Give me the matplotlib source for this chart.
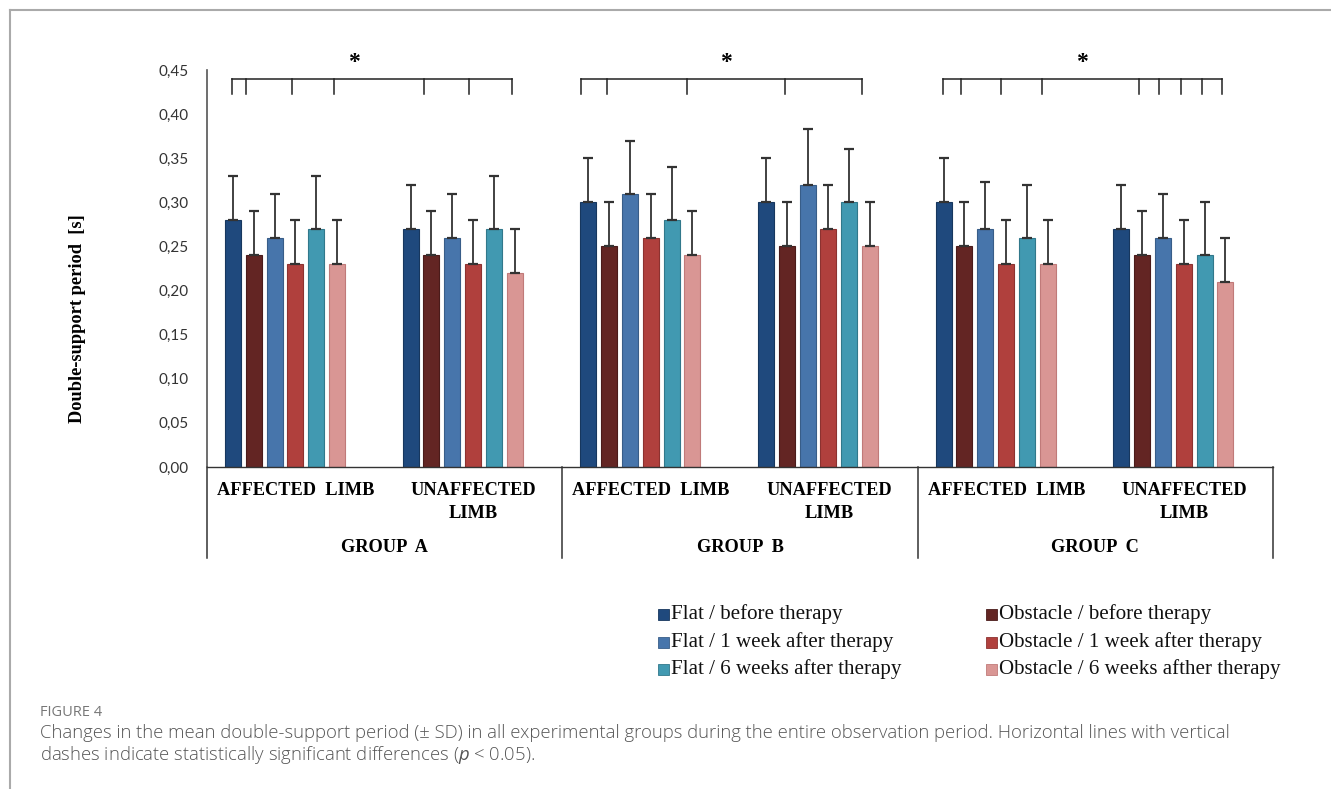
import matplotlib
matplotlib.use('Agg')
import matplotlib.pyplot as plt
from matplotlib.patches import Rectangle
import numpy as np

plt.rcParams['mathtext.fontset'] = 'custom'
plt.rcParams['mathtext.rm'] = 'Open Sans'
plt.rcParams['mathtext.it'] = 'Open Sans:italic'

# data
categories = ['AFFECTED  LIMB', 'UNAFFECTED\nLIMB'] * 3
groups = ['GROUP  A', 'GROUP  B', 'GROUP  C']
series = ['Flat / before therapy', 'Obstacle / before therapy',
          'Flat / 1 week after therapy', 'Obstacle / 1 week after therapy',
          'Flat / 6 weeks after therapy', 'Obstacle / 6 weeks afther therapy']
# rows = series, columns = categories (A aff, A unaff, B aff, B unaff, C aff, C unaff)
means = [[0.28, 0.27, 0.30, 0.30, 0.30, 0.27],
         [0.24, 0.24, 0.25, 0.25, 0.25, 0.24],
         [0.26, 0.26, 0.31, 0.32, 0.27, 0.26],
         [0.23, 0.23, 0.26, 0.27, 0.23, 0.23],
         [0.27, 0.27, 0.28, 0.30, 0.26, 0.24],
         [0.23, 0.22, 0.24, 0.25, 0.23, 0.21]]
sds = [[0.05, 0.05, 0.05, 0.05, 0.05, 0.05],
       [0.05, 0.05, 0.05, 0.05, 0.05, 0.05],
       [0.05, 0.05, 0.06, 0.063, 0.053, 0.05],
       [0.05, 0.05, 0.05, 0.05, 0.05, 0.05],
       [0.06, 0.06, 0.06, 0.06, 0.06, 0.06],
       [0.05, 0.05, 0.05, 0.05, 0.05, 0.05]]
yticks = [0, 0.05, 0.10, 0.15, 0.20, 0.25, 0.30, 0.35, 0.40, 0.45]
# significance brackets (pixel x of the dashes)
brackets = [[232, 246, 292, 334, 424, 469, 512],
            [581, 607, 687, 785, 862],
            [943, 961, 1001, 1042, 1139, 1159, 1181, 1202, 1222]]
caption_title = 'FIGURE 4'
caption = ['Changes in the mean double-support period (\u00b1 SD) in all experimental groups during the entire observation period. Horizontal lines with vertical',
           'dashes indicate statistically significant differences ($p$ < 0.05).']

colors = ['#1f497d', '#632523', '#4775ab', '#b0403d', '#4199b1', '#d99694']
edges = ['#17375e', '#4a1b1a', '#385d88', '#8c3230', '#31788b', '#c07a79']

W, H = 1331, 789
fig = plt.figure(figsize=(W / 100, H / 100), dpi=100)

def fx(px):
    return px / W

def fy(py):
    return 1 - py / H

x0, x1, y0, y1 = 207, 1273, 467, 70
ax = fig.add_axes([fx(x0), fy(y0), fx(x1 - x0), (y0 - y1) / H])
ax.set_xlim(0, 6)
ax.set_ylim(0, 0.45)
cat_w = (x1 - x0) / 6.0
vpp = 0.45 / (y0 - y1)  # value per pixel

serif = 'Liberation Serif'
ncat = len(categories)
for j in range(len(series)):
    xs = np.arange(ncat) + (26 + j * 20.8) / cat_w
    ax.bar(xs, means[j], width=16 / cat_w, color=colors[j], edgecolor=edges[j],
           linewidth=0.8, zorder=2)
    ax.errorbar(xs, means[j], yerr=[np.zeros(ncat), sds[j]], fmt='none',
                ecolor='#333333', elinewidth=1.3, capsize=3.8, capthick=1.6, zorder=3)

for s in ['top', 'right']:
    ax.spines[s].set_visible(False)
ax.spines['left'].set_color('#555555')
ax.spines['bottom'].set_color('#333333')
ax.spines['left'].set_linewidth(1.2)
ax.spines['bottom'].set_linewidth(1.0)
ax.set_xticks([])
ax.set_yticks(yticks)
ax.set_yticklabels([('%.2f' % v).replace('.', ',') for v in yticks],
                   fontfamily='Lato', fontsize=11, color='#333333')
ax.tick_params(axis='y', length=0, pad=13)

# lower category frame
ybot = -(558 - 467) * vpp
for xv in [0, 2, 4, 6]:
    ax.plot([xv, xv], [0, ybot], color='#333333', lw=1.1, clip_on=False)

for i, c in enumerate(categories):
    ax.text(i + 0.5, -(491 - 467 - 9) * vpp, c, ha='center', va='top',
            fontfamily=serif, fontweight='bold', fontsize=13.2, linespacing=1.45,
            clip_on=False)
for g, name in enumerate(groups):
    ax.text(2 * g + 1, -(547 - 467) * vpp, name, ha='center', va='center',
            fontfamily=serif, fontweight='bold', fontsize=13.2, clip_on=False)

# significance brackets
yb = 0.4394
yt = 0.423
for br in brackets:
    bx = [(p - x0) / cat_w for p in br]
    ax.plot([bx[0], bx[-1]], [yb, yb], color='#222222', lw=1.1, clip_on=False)
    for b in bx:
        ax.plot([b, b], [yt, yb], color='#222222', lw=1.1, clip_on=False)
for px in [354, 726, 1082]:
    ax.text((px - x0) / cat_w, 0.458, '*', ha='center', va='center', fontfamily=serif,
            fontweight='bold', fontsize=17, clip_on=False)

fig.text(fx(78), fy(319), 'Double-support period  [s]', rotation=90, ha='center',
         va='center', fontfamily=serif, fontweight='bold', fontsize=13.2)

# legend
for k, name in enumerate(series):
    col, row = k % 2, k // 2
    sx = [658, 986][col]
    sy = 614.5 + row * 27.5
    fig.add_artist(Rectangle((fx(sx), fy(sy + 5.5)), 11 / W, 11 / H, transform=fig.transFigure,
                             facecolor=colors[k], edgecolor=edges[k], lw=0.6))
    fig.text(fx(sx + 13), fy(sy), name, ha='left', va='center', fontfamily=serif,
             fontsize=15.1, color='#111111')

# frame lines
fig.add_artist(plt.Line2D([fx(9.5), fx(9.5)], [0, fy(9.5)], transform=fig.transFigure,
                          color='#aaaaaa', lw=1.5))
fig.add_artist(plt.Line2D([fx(9.5), 1], [fy(9.5), fy(9.5)], transform=fig.transFigure,
                          color='#aaaaaa', lw=1.5))

# caption
fig.text(fx(40), fy(712), caption_title, ha='left', va='center', fontfamily='Open Sans',
         fontsize=10.5, color='#777777')
for i, line in enumerate(caption):
    fig.text(fx(40), fy(733 + i * 22.5), line, ha='left', va='center', fontfamily='Open Sans',
             fontweight='light', fontsize=13.3, color='#555555')

fig.savefig('out.png', dpi=100)
